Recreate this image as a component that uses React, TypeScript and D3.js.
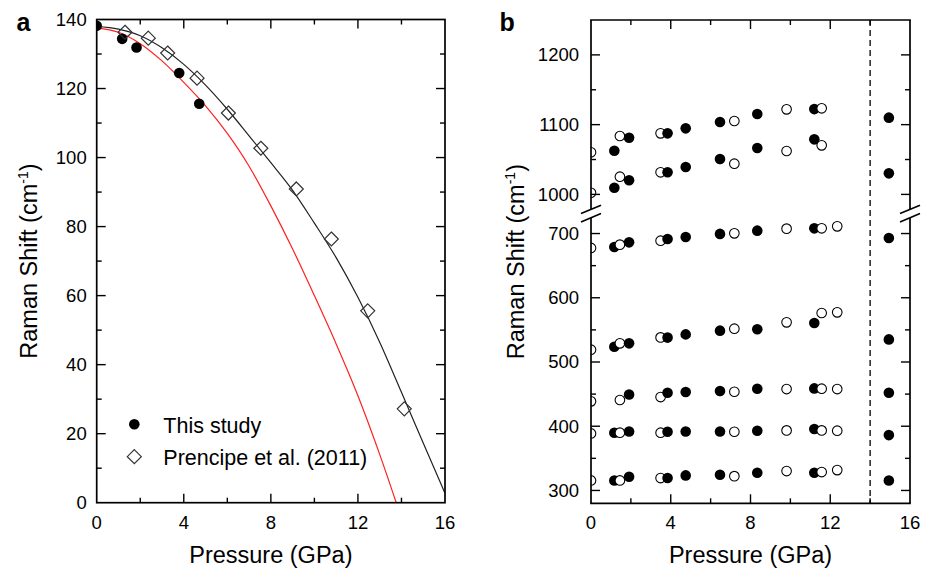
import React from "react";
import * as d3 from "d3";

// ---------- Panel a data ----------
const thisStudyP = [0, 1.17, 1.83, 3.79, 4.71];
const thisStudyW = [138.2, 134.4, 131.9, 124.5, 115.6];
const prencipeP = [1.3, 2.37, 3.26, 4.61, 6.05, 7.54, 9.17, 10.78, 12.45, 14.13];
const prencipeW = [136.3, 134.6, 130.3, 123.0, 112.9, 102.7, 90.9, 76.4, 55.6, 27.2];
// fit curves
const blackFitP = [0, 1, 2, 3, 4, 5, 6, 7, 8, 9, 10, 11, 12, 13, 14, 15, 16];
const blackFitW = [138, 137.2, 135.3, 131.8, 127, 121, 114, 106.3, 98.5, 90.5, 81, 71, 59.5, 46.5, 32, 17.3, 2.7];
const redFitP = [0, 1, 2, 3, 4, 5, 6, 7, 8, 9, 10, 11, 12, 13, 13.76];
const redFitW = [137.5, 136.3, 133, 128, 121.8, 115, 107, 97.5, 86, 73.5, 60, 46, 31, 14, 0];

const ticksAx = [0, 4, 8, 12, 16];
const ticksAy = [0, 20, 40, 60, 80, 100, 120, 140];
const legendLabels = ["This study", "Prencipe et al. (2011)"];

// ---------- Panel b data ----------
const filledP = [1.17, 1.91, 3.84, 4.75, 6.47, 8.34, 11.2, 14.94];
const filledLayer = [0, 1, 1, 1, 1, 1, 0, 1];
const filledModes: (number | null)[][] = [
  [315.6, 321.3, 319.3, 323.4, 324.4, 327.6, 327.6, 315.6],
  [389.9, 391.9, 391.4, 391.9, 391.9, 392.9, 395.6, 386.2],
  [null, 449.5, 452.2, 453.2, 454.8, 458.4, 458.9, 452.2],
  [523.8, 529, 538, 543, 548.8, 550.9, 560.7, 535.2],
  [679.1, 686.3, 691.6, 694.7, 699.4, 704.5, 708.1, 693.1],
  [1009.6, 1020.2, 1031.7, 1039.3, 1050.7, 1066.5, 1078.9, 1030.2],
  [1062.6, 1081.3, 1087.5, 1094.7, 1103.7, 1115.2, 1122.3, 1110],
];
const openP = [0, 1.45, 3.49, 7.19, 9.81, 11.57, 12.35];
const openModes: (number | null)[][] = [
  [315.6, 315.6, 319.3, 322.3, 330.2, 328.6, 331.7],
  [388.8, 389.9, 389.9, 391.4, 393.5, 393.5, 393],
  [438.7, 440.8, 445.4, 453.7, 457.9, 458.4, 457.9],
  [519.2, 529, 538.3, 551.9, 561.7, 576.3, 577.3],
  [677.6, 682.7, 688.9, 700.3, 707.6, 708.1, 711.2],
  [1002.4, 1025.4, 1031.7, 1044, 1062.2, 1070.3, null],
  [1060.3, 1083.7, 1087.5, 1105.2, 1121.9, 1123.4, null],
];
const ticksBx = [0, 4, 8, 12, 16];
const ticksBlow = [300, 400, 500, 600, 700];
const ticksBup = [1000, 1100, 1200];
const transitionP = 14;

const FONT = "'Liberation Sans', Arial, Helvetica, sans-serif";

export default function App() {
  const W = 933, H = 571;
  // panel a scales
  const xA = d3.scaleLinear().domain([0, 16]).range([96.7, 445]);
  const yA = d3.scaleLinear().domain([0, 140]).range([502.7, 19.5]);
  // panel b scales (broken axis)
  const xB = d3.scaleLinear().domain([0, 16]).range([591, 910]);
  const yBlow = d3.scaleLinear().domain([280, 724.5]).range([503.3, 217.8]);
  const yBup = d3.scaleLinear().domain([978.5, 1250]).range([209.4, 20]);
  const yB = (v: number) => (v >= 850 ? yBup(v) : yBlow(v));

  const MAJ = 9, MIN = 5;
  const axisW = 1.7;

  const lineA = d3
    .line<[number, number]>()
    .x((d) => xA(d[0]))
    .y((d) => yA(d[1]))
    .curve(d3.curveMonotoneX);

  const blackPts = blackFitP.map((p, i) => [p, blackFitW[i]] as [number, number]);
  const redPts = redFitP.map((p, i) => [p, redFitW[i]] as [number, number]);

  // tick marks for panel a
  const aL = xA(0), aR = xA(16), aT = yA(140), aB = yA(0);
  const tickLinesA: JSX.Element[] = [];
  d3.range(2, 16, 2).forEach((v) => {
    const len = v % 4 === 0 ? MAJ : MIN;
    const x = xA(v);
    tickLinesA.push(<line key={"abx" + v} x1={x} x2={x} y1={aB} y2={aB - len} />);
    tickLinesA.push(<line key={"atx" + v} x1={x} x2={x} y1={aT} y2={aT + len} />);
  });
  d3.range(10, 140, 10).forEach((v) => {
    const len = v % 20 === 0 ? MAJ : MIN;
    const y = yA(v);
    tickLinesA.push(<line key={"aly" + v} x1={aL} x2={aL + len} y1={y} y2={y} />);
    tickLinesA.push(<line key={"ary" + v} x1={aR} x2={aR - len} y1={y} y2={y} />);
  });

  // tick marks for panel b
  const bL = xB(0), bR = xB(16), bT = 20, bB = 503.3;
  const tickLinesB: JSX.Element[] = [];
  d3.range(2, 16, 2).forEach((v) => {
    const len = v % 4 === 0 ? MAJ : MIN;
    const x = xB(v);
    tickLinesB.push(<line key={"bbx" + v} x1={x} x2={x} y1={bB} y2={bB - len} />);
    tickLinesB.push(<line key={"btx" + v} x1={x} x2={x} y1={bT} y2={bT + len} />);
  });
  const yTickVals = [...d3.range(300, 701, 50), ...d3.range(1000, 1201, 50)];
  yTickVals.forEach((v) => {
    const len = v % 100 === 0 ? MAJ : MIN;
    const y = yB(v);
    tickLinesB.push(<line key={"bly" + v} x1={bL} x2={bL + len} y1={y} y2={y} />);
    tickLinesB.push(<line key={"bry" + v} x1={bR} x2={bR - len} y1={y} y2={y} />);
  });

  const gapTop = yBup(978.5), gapBot = yBlow(724.5);
  const breakMark = (x: number, key: string) => {
    const dx = 10, dy = 4.2;
    return (
      <g key={key} stroke="#000" strokeWidth={1.6}>
        <line x1={x - dx} x2={x + dx} y1={gapTop + dy} y2={gapTop - dy} />
        <line x1={x - dx} x2={x + dx} y1={gapBot + dy} y2={gapBot - dy} />
      </g>
    );
  };

  const rB = 5.3;
  const filledCircles = (layer: number) =>
    filledModes.flatMap((mode, m) =>
      mode.map((v, i) =>
        v === null || filledLayer[i] !== layer ? null : (
          <circle key={`f${layer}-${m}-${i}`} cx={xB(filledP[i])} cy={yB(v)} r={rB} fill="#000" />
        )
      )
    );
  const openCircles = openModes.flatMap((mode, m) =>
    mode.map((v, i) =>
      v === null ? null : (
        <circle
          key={`o-${m}-${i}`}
          cx={xB(openP[i])}
          cy={yB(v)}
          r={rB - 0.5}
          fill="#fff"
          stroke="#000"
          strokeWidth={1.1}
        />
      )
    )
  );

  const diamond = (cx: number, cy: number, s: number) =>
    `M${cx},${cy - s}L${cx + s},${cy}L${cx},${cy + s}L${cx - s},${cy}Z`;

  const yTitle = (x: number, y: number) => (
    <text
      transform={`translate(${x},${y}) rotate(-90)`}
      textAnchor="middle"
      fontSize={23.5}
      fontFamily={FONT}
      fill="#000"
    >
      Raman Shift (cm
      <tspan dy={-9} fontSize={14}>
        -1
      </tspan>
      <tspan dy={9}>)</tspan>
    </text>
  );

  return (
    <svg
      width={W}
      height={H}
      viewBox={`0 0 ${W} ${H}`}
      style={{ position: "absolute", left: 0, top: 0, background: "#fff" }}
    >
      <defs>
        <clipPath id="clipA">
          <rect x={aL} y={aT} width={aR - aL} height={aB - aT} />
        </clipPath>
        <clipPath id="clipB">
          <rect x={bL} y={bT} width={bR - bL} height={bB - bT} />
        </clipPath>
      </defs>
      <rect x={0} y={0} width={W} height={H} fill="#fff" />

      {/* ---------------- Panel a ---------------- */}
      <g clipPath="url(#clipA)">
        <path d={lineA(redPts) || ""} fill="none" stroke="#ff2020" strokeWidth={1.2} />
        <path d={lineA(blackPts) || ""} fill="none" stroke="#222" strokeWidth={1.2} />
        {thisStudyP.map((p, i) => (
          <circle key={"ts" + i} cx={xA(p)} cy={yA(thisStudyW[i])} r={5.3} fill="#000" />
        ))}
        {prencipeP.map((p, i) => (
          <path
            key={"pr" + i}
            d={diamond(xA(p), yA(prencipeW[i]), 7)}
            fill="none"
            stroke="#333"
            strokeWidth={1.2}
          />
        ))}
      </g>
      <g stroke="#000" strokeWidth={1.4}>{tickLinesA}</g>
      <rect x={aL} y={aT} width={aR - aL} height={aB - aT} fill="none" stroke="#000" strokeWidth={axisW} />
      <g fontFamily={FONT} fontSize={18.5} fill="#000">
        {ticksAx.map((v) => (
          <text key={"axl" + v} x={xA(v)} y={528.5} textAnchor="middle">
            {v}
          </text>
        ))}
        {ticksAy.map((v) => (
          <text key={"ayl" + v} x={aL - 10} y={yA(v)} dy="0.35em" textAnchor="end">
            {v}
          </text>
        ))}
      </g>
      <text x={(aL + aR) / 2} y={563} textAnchor="middle" fontSize={23.5} fontFamily={FONT}>
        Pressure (GPa)
      </text>
      {yTitle(37, (aT + aB) / 2)}
      {/* legend */}
      <circle cx={134.3} cy={424.3} r={5.3} fill="#000" />
      <path d={diamond(134.3, 456.7, 7)} fill="none" stroke="#333" strokeWidth={1.2} />
      <g fontFamily={FONT} fontSize={21.5}>
        <text x={163.3} y={433.3}>{legendLabels[0]}</text>
        <text x={163.3} y={465}>{legendLabels[1]}</text>
      </g>
      <text x={16.5} y={30.7} fontFamily={FONT} fontWeight="bold" fontSize={25}>
        a
      </text>

      {/* ---------------- Panel b ---------------- */}
      <line
        x1={xB(transitionP)}
        x2={xB(transitionP)}
        y1={bT}
        y2={bB}
        stroke="#000"
        strokeWidth={1.3}
        strokeDasharray="6,4"
      />
      <g clipPath="url(#clipB)">
        {filledCircles(0)}
        {openCircles}
        {filledCircles(1)}
      </g>
      <g stroke="#000" strokeWidth={1.4}>{tickLinesB}</g>
      <g stroke="#000" strokeWidth={axisW} fill="none">
        <line x1={bL - axisW / 2} x2={bR + axisW / 2} y1={bT} y2={bT} />
        <line x1={bL - axisW / 2} x2={bR + axisW / 2} y1={bB} y2={bB} />
        <line x1={bL} x2={bL} y1={bT} y2={gapTop} />
        <line x1={bL} x2={bL} y1={gapBot} y2={bB} />
        <line x1={bR} x2={bR} y1={bT} y2={gapTop} />
        <line x1={bR} x2={bR} y1={gapBot} y2={bB} />
      </g>
      {breakMark(bL, "brL")}
      {breakMark(bR, "brR")}
      <g fontFamily={FONT} fontSize={18.5} fill="#000">
        {ticksBx.map((v) => (
          <text key={"bxl" + v} x={xB(v)} y={528.5} textAnchor="middle">
            {v}
          </text>
        ))}
        {[...ticksBlow, ...ticksBup].map((v) => (
          <text key={"byl" + v} x={bL - 12} y={yB(v)} dy="0.35em" textAnchor="end">
            {v}
          </text>
        ))}
      </g>
      <text x={(bL + bR) / 2} y={563} textAnchor="middle" fontSize={23.5} fontFamily={FONT}>
        Pressure (GPa)
      </text>
      {yTitle(523.5, (bT + bB) / 2)}
      <text x={499.5} y={30.7} fontFamily={FONT} fontWeight="bold" fontSize={25}>
        b
      </text>
    </svg>
  );
}
